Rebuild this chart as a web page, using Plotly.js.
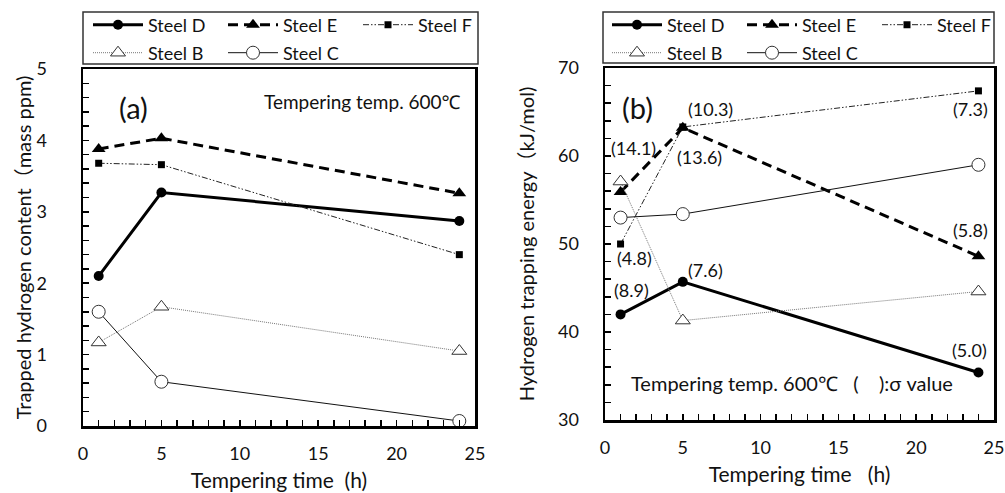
<!DOCTYPE html>
<html><head><meta charset="utf-8">
<script src="https://cdn.plot.ly/plotly-3.0.1.min.js"></script>
<style>html,body{margin:0;padding:0;background:#fff}#chart{width:1005px;height:493px}</style>
</head><body><div id="chart"></div>
<script>
// ---- data ----
const times = [1, 5, 24];
const contentD = [2.10, 3.27, 2.87];
const contentE = [3.88, 4.03, 3.26];
const contentF = [3.68, 3.66, 2.40];
const contentB = [1.17, 1.67, 1.05];
const contentC = [1.60, 0.62, 0.07];
const energyD = [42.0, 45.7, 35.4];
const energyE = [55.9, 63.2, 48.6];
const energyF = [50.0, 63.3, 67.4];
const energyB = [57.1, 41.3, 44.6];
const energyC = [53.0, 53.4, 59.0];
const sigmaD = ['(8.9)', '(7.6)', '(5.0)'];
const sigmaE = ['(14.1)', '(13.6)', '(5.8)'];
const sigmaF = ['(4.8)', '(10.3)', '(7.3)'];
const xTicks = [0, 5, 10, 15, 20, 25];
const yTicksA = [0, 1, 2, 3, 4, 5];
const yTicksB = [30, 40, 50, 60, 70];

// ---- styles ----
const FONT = 'Lato, "Noto Sans", "Noto Sans CJK JP", sans-serif';
const W = 1005, H = 493;
const px = v => v / W, py = v => 1 - v / H;
const styles = {
  D: {name: 'Steel D', line: {color: '#000', width: 3}, marker: {symbol: 'circle', size: 10, color: '#000'}},
  E: {name: 'Steel E', line: {color: '#000', width: 3, dash: '10px,6px'}, marker: {symbol: 'triangle-up', size: 12, color: '#000'}},
  F: {name: 'Steel F', line: {color: '#222', width: 1, dash: '6px,2px,1.5px,2px,1.5px,2px'}, marker: {symbol: 'square', size: 7, color: '#000'}},
  B: {name: 'Steel B', line: {color: '#777', width: 1, dash: '1px,1px'}, marker: {symbol: 'triangle-up', size: 13, color: '#fff', line: {color: '#333', width: 1}}},
  C: {name: 'Steel C', line: {color: '#111', width: 1}, marker: {symbol: 'circle', size: 13, color: '#fff', line: {color: '#333', width: 1}}}
};
function tr(key, ys, xa, ya, leg) {
  const s = styles[key];
  return {x: times, y: ys, xaxis: xa, yaxis: ya, type: 'scatter', mode: 'lines+markers',
    name: s.name, line: s.line, marker: s.marker, legend: leg, hoverinfo: 'x+y'};
}
const data = [
  tr('D', contentD, 'x', 'y', 'legend'),
  tr('E', contentE, 'x', 'y', 'legend'),
  tr('F', contentF, 'x', 'y', 'legend'),
  tr('B', contentB, 'x', 'y', 'legend2'),
  tr('C', contentC, 'x', 'y', 'legend2'),
  tr('D', energyD, 'x2', 'y2', 'legend3'),
  tr('E', energyE, 'x2', 'y2', 'legend3'),
  tr('F', energyF, 'x2', 'y2', 'legend3'),
  tr('B', energyB, 'x2', 'y2', 'legend4'),
  tr('C', energyC, 'x2', 'y2', 'legend4')
];

const tickStyle = {ticks: 'inside', ticklen: 6, tickwidth: 1.5, tickcolor: '#000'};
function xAxis(domain, anchor, title) {
  return Object.assign({domain: domain, anchor: anchor, range: [0, 25], tickmode: 'linear', tick0: xTicks[0], dtick: xTicks[1] - xTicks[0],
    minor: Object.assign({tickmode: 'linear', tick0: 0, dtick: 1, showgrid: false}, tickStyle),
    showline: true, mirror: true, linewidth: 2.5, linecolor: '#000',
    showgrid: false, zeroline: false, ticklabelstandoff: 10,
    tickfont: {family: FONT, size: 18, color: '#111'},
    title: {text: title, font: {family: FONT, size: 21, color: '#111'}, standoff: 10}}, tickStyle);
}
function yAxis(domain, anchor, range, ticks, dt, title, so, lso) {
  return Object.assign({domain: domain, anchor: anchor, range: range, tickmode: 'linear', tick0: ticks[0], dtick: ticks[1] - ticks[0],
    minor: Object.assign({tickmode: 'linear', tick0: ticks[0], dtick: dt, showgrid: false}, tickStyle),
    showline: true, mirror: true, linewidth: 2.5, linecolor: '#000',
    showgrid: false, zeroline: false, ticklabelstandoff: lso,
    tickfont: {family: FONT, size: 18, color: '#111'},
    title: {text: title, font: {family: FONT, size: 20, color: '#111'}, standoff: so}}, tickStyle);
}
function legendCfg(x, y) {
  return {orientation: 'h', x: x, y: y, xanchor: 'left', yanchor: 'middle', xref: 'paper', yref: 'paper',
    bgcolor: 'rgba(0,0,0,0)', borderwidth: 0, itemwidth: 50, entrywidthmode: 'pixels', entrywidth: 70,
    traceorder: 'normal', font: {family: FONT, size: 18, color: '#111'}, itemclick: false};
}

// sigma labels: offsets in px from their data point
const sigOff = {
  D: [[11, 24], [23, 12], [-9, 22]],
  E: [[13, 44], [17, -29], [-8, 26]],
  F: [[14, -14], [28, 18], [-8, -18]]
};
const annotations = [];
[['D', sigmaD, energyD], ['E', sigmaE, energyE], ['F', sigmaF, energyF]].forEach(([k, labels, ys]) => {
  labels.forEach((t, i) => annotations.push({x: times[i], y: ys[i], xref: 'x2', yref: 'y2', text: t,
    showarrow: false, xshift: sigOff[k][i][0], yshift: sigOff[k][i][1],
    font: {family: FONT, size: 18, color: '#111'}}));
});
annotations.push(
  {xref: 'paper', yref: 'paper', x: px(117), y: py(88), text: '(a)', showarrow: false, font: {family: FONT, size: 29, color: '#111'}},
  {xref: 'paper', yref: 'paper', x: px(637), y: py(88), text: '(b)', showarrow: false, font: {family: FONT, size: 29, color: '#111'}},
  {xref: 'paper', yref: 'paper', x: px(463), y: py(88), xanchor: 'right', text: 'Tempering temp. 600℃', showarrow: false, font: {family: FONT, size: 19, color: '#111'}},
  {xref: 'paper', yref: 'paper', x: px(629), y: py(397), xanchor: 'left', text: 'Tempering temp. 600℃\u00a0\u00a0\u00a0(\u00a0\u00a0\u00a0\u00a0):σ value', showarrow: false, font: {family: FONT, size: 20, color: '#111'}}
);

const layout = {
  width: W, height: H, margin: {l: 0, r: 0, t: 0, b: 0, autoexpand: false},
  paper_bgcolor: '#fff', plot_bgcolor: '#fff', showlegend: true,
  xaxis: xAxis([px(83), px(475)], 'y', 'Tempering\u00a0time\u00a0\u00a0(h)'),
  yaxis: yAxis([py(426), py(69)], 'x', [0, 5], yTicksA, 0.2, 'Trapped hydrogen content\uff08mass ppm)', 0, 30),
  xaxis2: xAxis([px(605), px(994)], 'y2', 'Tempering\u00a0time\u00a0\u00a0\u00a0(h)'),
  yaxis2: yAxis([py(420), py(68)], 'x2', [30, 70], yTicksB, 2, 'Hydrogen trapping energy\uff08kJ/mol)', 18, 20),
  legend: legendCfg(px(88), py(25)),
  legend2: legendCfg(px(88), py(53)),
  legend3: legendCfg(px(607), py(25)),
  legend4: legendCfg(px(607), py(53)),
  shapes: [
    {type: 'rect', xref: 'paper', yref: 'paper', x0: px(83), x1: px(478), y0: py(64), y1: py(12), line: {color: '#333', width: 1.5}},
    {type: 'rect', xref: 'paper', yref: 'paper', x0: px(603), x1: px(994), y0: py(63), y1: py(12), line: {color: '#333', width: 1.5}}
  ],
  annotations: annotations
};
Plotly.newPlot('chart', data, layout, {displayModeBar: false, staticPlot: true});
</script>
</body></html>
